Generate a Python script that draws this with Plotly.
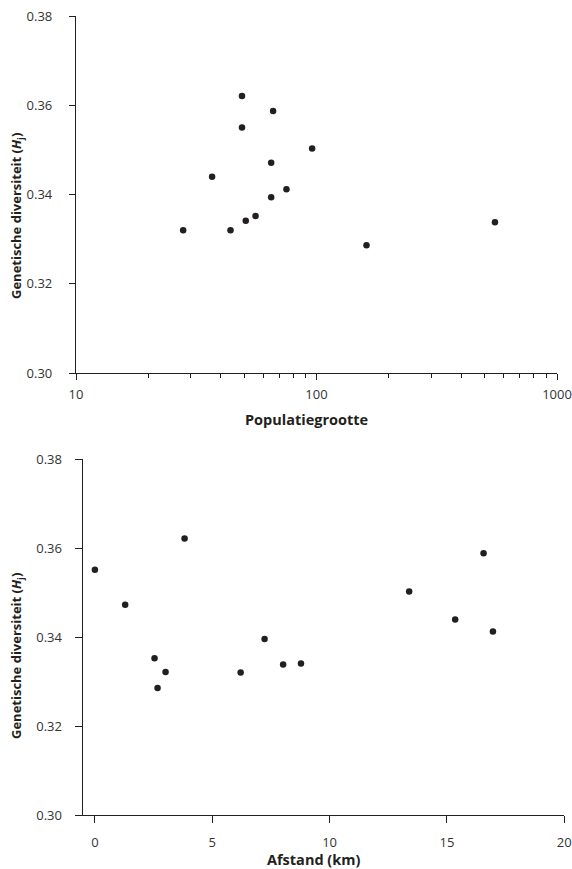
import plotly.graph_objects as go

# Top panel: population size vs genetic diversity
pop_size = [27.9, 36.8, 43.9, 49.0, 49.0, 50.8, 55.8, 64.8, 64.8, 66.0, 75.0, 95.9, 161.4, 552.0]
hj_pop = [0.3320, 0.3440, 0.3320, 0.3621, 0.3550, 0.3341, 0.3352, 0.3471, 0.3394, 0.3587, 0.3412, 0.3503, 0.3286, 0.3338]

# Bottom panel: distance vs genetic diversity
distance_km = [0.0, 1.29, 2.54, 2.67, 3.01, 3.82, 6.21, 7.23, 8.02, 8.78, 13.39, 15.35, 16.56, 16.96]
hj_dist = [0.3552, 0.3473, 0.3353, 0.3286, 0.3322, 0.3622, 0.3321, 0.3396, 0.3339, 0.3341, 0.3503, 0.3440, 0.3589, 0.3413]

y_ticks = [0.30, 0.32, 0.34, 0.36, 0.38]
y_tick_text = ["0.30", "0.32", "0.34", "0.36", "0.38"]
x_top_ticks = [10, 100, 1000]
x_top_minor = [20, 30, 40, 50, 60, 70, 80, 90, 200, 300, 400, 500, 600, 700, 800, 900]
x_bot_ticks = [0, 5, 10, 15, 20]

ytitle = "Genetische diversiteit (<i>H</i><sub>j</sub>)"
xtitle_top = "Populatiegrootte"
xtitle_bot = "Afstand (km)"

INK = "#231f20"
FONT = "Open Sans"
W, H = 572, 869

fig = go.Figure()
fig.add_trace(go.Scatter(x=pop_size, y=hj_pop, mode="markers",
                         marker=dict(size=6.5, color=INK), xaxis="x", yaxis="y",
                         showlegend=False))
fig.add_trace(go.Scatter(x=distance_km, y=hj_dist, mode="markers",
                         marker=dict(size=6.5, color=INK), xaxis="x2", yaxis="y2",
                         showlegend=False))

def px_x(p):
    return p / W

def px_y(p):
    return 1 - p / H

axis_common = dict(showline=True, linecolor=INK, linewidth=1.3, ticks="outside",
                   tickcolor=INK, tickwidth=1, showgrid=False, zeroline=False,
                   automargin=False,
                   tickfont=dict(family=FONT, size=13, color="#333333"))

fig.update_layout(
    width=W, height=H, margin=dict(l=0, r=0, t=0, b=0, autoexpand=False),
    paper_bgcolor="white", plot_bgcolor="white",
    font=dict(family=FONT, color=INK),
    xaxis=dict(type="log", range=[1, 3], domain=[px_x(76), px_x(557)], anchor="y",
               tickvals=x_top_ticks, ticktext=[str(v) for v in x_top_ticks], ticklen=6,
               minor=dict(ticks="outside", ticklen=4, tickcolor=INK, tickwidth=1,
                          showgrid=False, tickvals=x_top_minor),
               ticklabelstandoff=3, **axis_common),
    yaxis=dict(range=[0.30, 0.38], domain=[px_y(373), px_y(16)], anchor="x",
               tickvals=y_ticks, ticktext=y_tick_text, ticklen=6,
               ticklabelstandoff=14, **axis_common),
    xaxis2=dict(range=[-0.52, 20], domain=[px_x(82.7), px_x(564.3)], anchor="y2",
                tickvals=x_bot_ticks, ticklen=7, ticklabelstandoff=8, **axis_common),
    yaxis2=dict(range=[0.30, 0.38], domain=[px_y(815.3), px_y(459.3)], anchor="x2",
                tickvals=y_ticks, ticktext=y_tick_text, ticklen=7,
                ticklabelstandoff=10, **axis_common),
)

ytitle_font = dict(family=FONT, size=13, color=INK)
xtitle_font = dict(family=FONT, size=14.5, color=INK)
annos = [
    dict(text="<b>" + ytitle + "</b>", x=px_x(17), y=px_y(216), textangle=-90, font=ytitle_font),
    dict(text="<b>" + ytitle + "</b>", x=px_x(17), y=px_y(656), textangle=-90, font=ytitle_font),
    dict(text="<b>" + xtitle_top + "</b>", x=px_x(306), y=px_y(419), font=xtitle_font),
    dict(text="<b>" + xtitle_bot + "</b>", x=px_x(313), y=px_y(859), font=xtitle_font),
]
for a in annos:
    fig.add_annotation(xref="paper", yref="paper", showarrow=False,
                       xanchor="center", yanchor="middle", **a)

fig.write_html("out.html", config={"displayModeBar": False},
               post_script="document.body.style.margin='0px';document.body.style.overflow='hidden';")
